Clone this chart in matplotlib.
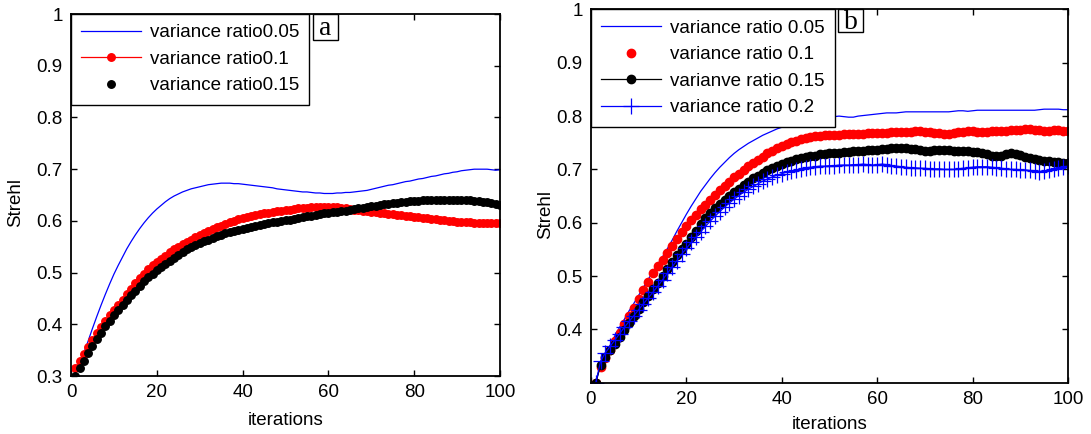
import matplotlib
matplotlib.use('Agg')
import matplotlib.pyplot as plt
from matplotlib.patches import Rectangle

plt.rcParams['font.family'] = ['Liberation Sans', 'DejaVu Sans']

iters = list(range(1, 101))

# panel a
a_var005 = [0.305, 0.325, 0.345, 0.368, 0.392, 0.415, 0.437, 0.458, 0.478, 0.497,
            0.514, 0.530, 0.546, 0.560, 0.573, 0.585, 0.596, 0.606, 0.615, 0.623,
            0.630, 0.637, 0.643, 0.648, 0.652, 0.656, 0.659, 0.662, 0.664, 0.666,
            0.668, 0.670, 0.671, 0.672, 0.673, 0.673, 0.673, 0.672, 0.672, 0.671,
            0.670, 0.669, 0.668, 0.667, 0.666, 0.665, 0.664, 0.662, 0.661, 0.660,
            0.659, 0.658, 0.657, 0.656, 0.656, 0.655, 0.654, 0.654, 0.653, 0.653,
            0.653, 0.654, 0.654, 0.655, 0.655, 0.656, 0.657, 0.658, 0.659, 0.661,
            0.663, 0.665, 0.667, 0.669, 0.670, 0.672, 0.674, 0.676, 0.677, 0.679,
            0.681, 0.682, 0.684, 0.686, 0.687, 0.689, 0.691, 0.692, 0.694, 0.695,
            0.697, 0.698, 0.699, 0.700, 0.700, 0.700, 0.700, 0.699, 0.698, 0.699]
a_var01 = [0.315, 0.329, 0.343, 0.357, 0.370, 0.383, 0.395, 0.407, 0.418, 0.428,
           0.438, 0.447, 0.458, 0.469, 0.479, 0.489, 0.498, 0.507, 0.514, 0.521,
           0.527, 0.533, 0.539, 0.545, 0.550, 0.555, 0.560, 0.564, 0.568, 0.572,
           0.576, 0.580, 0.584, 0.588, 0.591, 0.594, 0.597, 0.600, 0.603, 0.605,
           0.607, 0.609, 0.611, 0.613, 0.615, 0.616, 0.617, 0.619, 0.620, 0.621,
           0.622, 0.623, 0.624, 0.625, 0.625, 0.626, 0.626, 0.626, 0.626, 0.626,
           0.626, 0.626, 0.625, 0.624, 0.623, 0.622, 0.621, 0.620, 0.619, 0.618,
           0.617, 0.616, 0.615, 0.614, 0.613, 0.612, 0.611, 0.610, 0.609, 0.608,
           0.607, 0.606, 0.605, 0.604, 0.603, 0.602, 0.601, 0.600, 0.599, 0.598,
           0.598, 0.597, 0.597, 0.596, 0.596, 0.596, 0.596, 0.596, 0.596, 0.596]
a_var015 = [0.300, 0.315, 0.329, 0.344, 0.358, 0.371, 0.384, 0.396, 0.407, 0.418,
            0.428, 0.438, 0.447, 0.456, 0.465, 0.474, 0.483, 0.491, 0.498, 0.505,
            0.511, 0.517, 0.523, 0.529, 0.535, 0.540, 0.545, 0.549, 0.553, 0.557,
            0.561, 0.564, 0.567, 0.570, 0.573, 0.576, 0.578, 0.580, 0.582, 0.584,
            0.586, 0.588, 0.590, 0.592, 0.594, 0.595, 0.597, 0.598, 0.600, 0.601,
            0.602, 0.604, 0.605, 0.607, 0.609, 0.610, 0.612, 0.614, 0.615, 0.616,
            0.617, 0.618, 0.619, 0.620, 0.621, 0.623, 0.624, 0.625, 0.627, 0.628,
            0.629, 0.631, 0.632, 0.633, 0.634, 0.635, 0.636, 0.637, 0.638, 0.639,
            0.639, 0.640, 0.640, 0.641, 0.641, 0.641, 0.641, 0.641, 0.641, 0.641,
            0.641, 0.640, 0.640, 0.639, 0.638, 0.637, 0.636, 0.635, 0.633, 0.631]

# panel b
b_var005 = [0.300, 0.333, 0.352, 0.370, 0.388, 0.404, 0.419, 0.435, 0.449, 0.464,
            0.479, 0.494, 0.508, 0.522, 0.536, 0.551, 0.567, 0.584, 0.600, 0.616,
            0.631, 0.645, 0.659, 0.671, 0.683, 0.694, 0.704, 0.713, 0.722, 0.730,
            0.737, 0.743, 0.749, 0.754, 0.759, 0.764, 0.768, 0.772, 0.776, 0.779,
            0.782, 0.785, 0.787, 0.790, 0.792, 0.794, 0.795, 0.796, 0.797, 0.798,
            0.799, 0.800, 0.799, 0.798, 0.798, 0.800, 0.801, 0.802, 0.803, 0.804,
            0.805, 0.806, 0.806, 0.806, 0.807, 0.808, 0.808, 0.808, 0.808, 0.808,
            0.808, 0.808, 0.808, 0.808, 0.808, 0.809, 0.810, 0.810, 0.809, 0.810,
            0.811, 0.811, 0.811, 0.811, 0.811, 0.811, 0.811, 0.811, 0.811, 0.811,
            0.811, 0.811, 0.811, 0.812, 0.813, 0.813, 0.813, 0.813, 0.812, 0.812]
b_var01 = [0.300, 0.330, 0.346, 0.362, 0.378, 0.394, 0.410, 0.425, 0.440, 0.457,
           0.474, 0.489, 0.505, 0.518, 0.530, 0.543, 0.556, 0.569, 0.582, 0.594,
           0.605, 0.615, 0.625, 0.634, 0.643, 0.652, 0.661, 0.669, 0.677, 0.685,
           0.692, 0.699, 0.706, 0.712, 0.718, 0.724, 0.730, 0.735, 0.740, 0.744,
           0.748, 0.751, 0.754, 0.757, 0.759, 0.761, 0.762, 0.763, 0.764, 0.764,
           0.765, 0.765, 0.766, 0.766, 0.767, 0.767, 0.767, 0.768, 0.768, 0.768,
           0.769, 0.769, 0.770, 0.770, 0.771, 0.771, 0.771, 0.772, 0.772, 0.771,
           0.770, 0.769, 0.768, 0.767, 0.767, 0.768, 0.770, 0.771, 0.772, 0.772,
           0.771, 0.771, 0.771, 0.772, 0.772, 0.772, 0.772, 0.773, 0.773, 0.774,
           0.775, 0.775, 0.774, 0.773, 0.772, 0.772, 0.773, 0.773, 0.772, 0.772]
b_var015 = [0.300, 0.333, 0.348, 0.361, 0.373, 0.386, 0.399, 0.412, 0.425, 0.438,
            0.451, 0.463, 0.475, 0.487, 0.500, 0.513, 0.527, 0.539, 0.550, 0.561,
            0.573, 0.585, 0.597, 0.608, 0.618, 0.627, 0.635, 0.643, 0.650, 0.657,
            0.664, 0.670, 0.677, 0.683, 0.688, 0.693, 0.698, 0.703, 0.707, 0.710,
            0.713, 0.716, 0.719, 0.721, 0.723, 0.725, 0.726, 0.728, 0.729, 0.730,
            0.731, 0.731, 0.732, 0.733, 0.734, 0.735, 0.735, 0.736, 0.736, 0.737,
            0.738, 0.739, 0.740, 0.741, 0.741, 0.740, 0.739, 0.738, 0.736, 0.735,
            0.735, 0.736, 0.737, 0.737, 0.736, 0.735, 0.735, 0.734, 0.734, 0.733,
            0.732, 0.730, 0.728, 0.726, 0.725, 0.726, 0.728, 0.730, 0.729, 0.727,
            0.724, 0.722, 0.720, 0.718, 0.716, 0.715, 0.714, 0.713, 0.712, 0.712]
b_var02 = [0.300, 0.340, 0.356, 0.368, 0.380, 0.392, 0.404, 0.415, 0.426, 0.437,
           0.448, 0.459, 0.470, 0.481, 0.493, 0.505, 0.517, 0.529, 0.541, 0.552,
           0.563, 0.573, 0.583, 0.593, 0.603, 0.612, 0.621, 0.629, 0.637, 0.644,
           0.651, 0.657, 0.663, 0.668, 0.673, 0.678, 0.682, 0.686, 0.689, 0.692,
           0.695, 0.697, 0.699, 0.701, 0.703, 0.704, 0.705, 0.706, 0.706, 0.707,
           0.707, 0.708, 0.708, 0.708, 0.709, 0.709, 0.710, 0.709, 0.708, 0.709,
           0.710, 0.709, 0.707, 0.706, 0.705, 0.704, 0.703, 0.703, 0.702, 0.702,
           0.701, 0.701, 0.701, 0.700, 0.700, 0.700, 0.701, 0.702, 0.703, 0.704,
           0.705, 0.705, 0.705, 0.704, 0.703, 0.702, 0.701, 0.700, 0.700, 0.699,
           0.699, 0.698, 0.697, 0.696, 0.697, 0.699, 0.701, 0.703, 0.705, 0.706]

legend_a = ['variance ratio0.05', 'variance ratio0.1', 'variance ratio0.15']
legend_b = ['variance ratio 0.05', 'variance ratio 0.1', 'varianve ratio 0.15', 'variance ratio 0.2']

FS = 13.5

fig = plt.figure(figsize=(10.91, 4.34), dpi=100)
ax1 = fig.add_axes([0.0651, 0.1336, 0.3932, 0.834])
ax2 = fig.add_axes([0.5417, 0.1182, 0.4372, 0.860])

ax1.plot(iters, a_var005, color='#0000ff', lw=0.9, label=legend_a[0])
ax1.plot(iters, a_var01, color='#ff0000', lw=0.9, marker='o', ms=5.4, label=legend_a[1])
ax1.plot(iters, a_var015, color='k', lw=0, marker='o', ms=5.4, label=legend_a[2])

ax2.plot(iters, b_var005, color='#0000ff', lw=0.9, label=legend_b[0])
ax2.plot(iters, b_var01, color='#ff0000', lw=0, marker='o', ms=6, label=legend_b[1])
ax2.plot(iters, b_var015, color='k', lw=0.9, marker='o', ms=6, label=legend_b[2])
ax2.plot(iters, b_var02, color='#0000ff', lw=0.9, marker='+', ms=11, mew=0.9, label=legend_b[3])

for ax in (ax1, ax2):
    ax.set_xlim(0, 100)
    ax.set_ylim(0.3, 1.0)
    ax.set_xticks([0, 20, 40, 60, 80, 100])
    ax.tick_params(direction='in', top=True, right=True, length=4, width=1, labelsize=FS, pad=6)
    for s in ax.spines.values():
        s.set_linewidth(1.3)
    ax.set_xlabel('iterations', fontsize=FS)
    ax.set_ylabel('Strehl', fontsize=FS)

ax1.set_yticks([0.3, 0.4, 0.5, 0.6, 0.7, 0.8, 0.9, 1.0])
ax1.set_yticklabels(['0.3', '0.4', '0.5', '0.6', '0.7', '0.8', '0.9', '1'])
ax2.set_yticks([0.4, 0.5, 0.6, 0.7, 0.8, 0.9, 1.0])
ax2.set_yticklabels(['0.4', '0.5', '0.6', '0.7', '0.8', '0.9', '1'])

ax1.xaxis.set_label_coords(0.5, -0.1)
ax2.xaxis.set_label_coords(0.5, -0.09)
ax1.yaxis.set_label_coords(-0.11, 0.48)
ax2.yaxis.set_label_coords(-0.078, 0.45)

for ax in (ax1, ax2):
    leg = ax.legend(loc='upper left', bbox_to_anchor=(0, 1), borderaxespad=0, fontsize=FS,
                    fancybox=False, edgecolor='k', framealpha=1, handlelength=3.2,
                    handletextpad=0.45, labelspacing=0.5, borderpad=0.55)
    leg.get_frame().set_linewidth(1.0)

# panel tags
for ax, x0, x1, y0, tag in ((ax1, 0.564, 0.622, 0.928, 'a'), (ax2, 0.518, 0.570, 0.94, 'b')):
    ax.add_patch(Rectangle((x0, y0), x1 - x0, 1 - y0, transform=ax.transAxes,
                           fc='w', ec='k', lw=1.0, clip_on=False, zorder=10))
    ax.text((x0 + x1) / 2, (y0 + 1) / 2 - 0.005, tag, transform=ax.transAxes, ha='center', va='center',
            fontsize=20, family=['Liberation Serif', 'DejaVu Serif'], zorder=11)

fig.savefig('out.png', dpi=100)
